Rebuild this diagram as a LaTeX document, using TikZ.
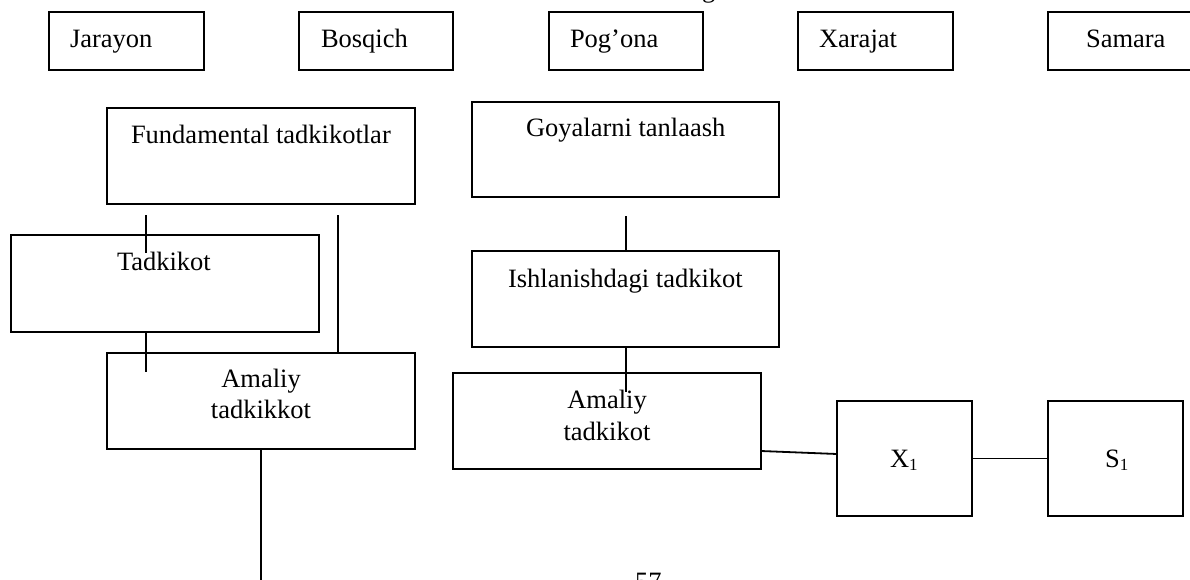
\documentclass[tikz,border=0pt]{standalone}
\usepackage{fontspec}
\setmainfont{Liberation Serif}
\begin{document}
\begin{tikzpicture}[x=1pt,y=-1pt,
  box/.style={draw=black,line width=1.8pt,inner sep=0pt,fill=none},
  txt/.style={inner sep=0pt,outer sep=0pt,font=\fontsize{26.5}{31}\selectfont},
  conn/.style={draw=black,line width=1.8pt}]
\useasboundingbox (0,0) rectangle (1190,580);
\clip (0,0) rectangle (1190,580);
\fill[white] (0,0) rectangle (1190,580);
% header row
\node[box,minimum width=155pt,minimum height=58pt] (jar) at (126.5,41) {};
\node[box,minimum width=154pt,minimum height=58pt] (bos) at (376,41) {};
\node[box,minimum width=154pt,minimum height=58pt] (pog) at (626,41) {};
\node[box,minimum width=155pt,minimum height=58pt] (xar) at (875.5,41) {};
\node[box,minimum width=155pt,minimum height=58pt] (sam) at (1125.5,41) {};
\node[txt,anchor=base west] (tjar) at (70,48) {Jarayon};
\node[txt,anchor=base west] (tbos) at (321,48) {Bosqich};
\node[txt,anchor=base west] (tpog) at (570,48) {Pog’ona};
\node[txt,anchor=base west] (txar) at (819,48) {Xarajat};
\node[txt,anchor=base west] (tsam) at (1086,48) {Samara};
\node[txt,anchor=base west] (tg) at (702,-2) {g};
% left column
\node[box,minimum width=308pt,minimum height=96pt] (fund) at (261,156) {};
\node[txt,anchor=base west] (tfund) at (131,144) {Fundamental tadkikotlar};
\node[box,minimum width=308pt,minimum height=97pt] (tad) at (165,283.5) {};
\node[txt,anchor=base west] (ttad) at (117,270) {Tadkikot};
\node[box,minimum width=308pt,minimum height=96pt] (amL) at (261,401) {};
\node[txt,anchor=base] (tamL1) at (261,387) {Amaliy};
\node[txt,anchor=base] (tamL2) at (261,418) {tadkikkot};
% right column
\node[box,minimum width=307pt,minimum height=95pt] (goy) at (625.5,149.5) {};
\node[txt,anchor=base west] (tgoy) at (526,137) {Goyalarni tanlaash};
\node[box,minimum width=307pt,minimum height=96pt] (ish) at (625.5,299) {};
\node[txt,anchor=base west] (tish) at (508,287) {Ishlanishdagi tadkikot};
\node[box,minimum width=308pt,minimum height=96pt] (amR) at (607,421) {};
\node[txt,anchor=base] (tamR1) at (607,408) {Amaliy};
\node[txt,anchor=base] (tamR2) at (607,440) {tadkikot};
\node[box,minimum width=135pt,minimum height=115pt] (x1) at (904.5,458.5) {};
\node[txt,anchor=base west] (tx1) at (890,467) {X\raisebox{-0.12em}{\fontsize{17}{17}\selectfont 1}};
\node[box,minimum width=135pt,minimum height=115pt] (s1) at (1115.5,458.5) {};
\node[txt,anchor=base west] (ts1) at (1105,467) {S\raisebox{-0.12em}{\fontsize{17}{17}\selectfont 1}};
\node[txt,anchor=base west] (tpage) at (635,590) {57};
% connector end points
\coordinate (a1) at (146,215);
\coordinate (a2) at (146,253);
\coordinate (b1) at (338,215);
\coordinate (c2) at (146,372);
\coordinate (d2) at (261,585);
\coordinate (e1) at (626,216);
\coordinate (f2) at (626,392);
\coordinate (g1) at (761,451);
\coordinate (g2) at (837,454);
% connectors
\draw[conn] (a1) -- (a2);
\draw[conn] (b1) -- (b1 |- amL.north);
\draw[conn] (tad.south -| c2) -- (c2);
\draw[conn] (amL.south -| d2) -- (d2);
\draw[conn] (e1) -- (e1 |- ish.north);
\draw[conn] (ish.south -| f2) -- (f2);
\draw[conn] (g1) -- (g2);
\draw[conn] (x1.east) -- (s1.west);
\end{tikzpicture}
\end{document}
